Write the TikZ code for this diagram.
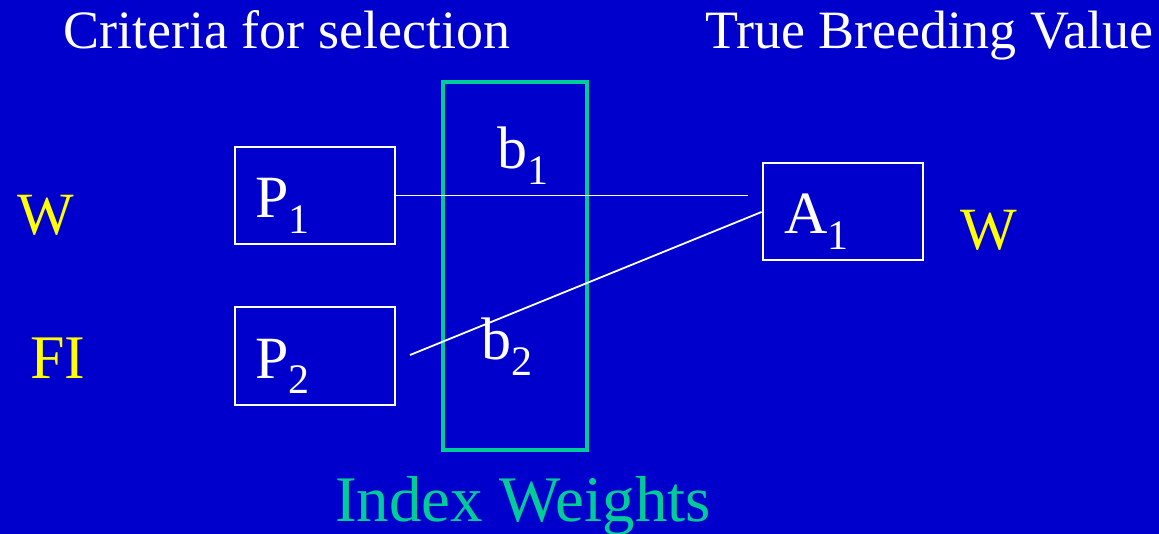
\documentclass[tikz,border=0pt]{standalone}
\usepackage{fontspec}
\setmainfont{Liberation Serif}
\definecolor{bgblue}{RGB}{0,0,204}
\definecolor{idxgreen}{RGB}{0,204,153}
\definecolor{lblyellow}{RGB}{255,255,0}
\newcommand{\mysub}[1]{\raisebox{-16pt}{\fontsize{42}{42}\selectfont #1}}
\begin{document}
\begin{tikzpicture}[x=1pt,y=-1pt,
  wbox/.style={draw=white,line width=2pt,minimum width=160pt,minimum height=97pt,inner sep=0pt},
  gbox/.style={draw=idxgreen,line width=3.5pt,minimum width=144pt,minimum height=368pt,inner sep=0pt},
  title/.style={anchor=base west,inner sep=0pt,text=white,font=\fontsize{54}{60}\selectfont},
  sym/.style={anchor=base west,inner sep=0pt,text=white,font=\fontsize{60}{66}\selectfont},
  trait/.style={anchor=base west,inner sep=0pt,text=lblyellow,font=\fontsize{60}{66}\selectfont},
  conn/.style={draw=white,line width=1.8pt}]
\fill[bgblue] (0,0) rectangle (1159,534);
\useasboundingbox (0,0) rectangle (1159,534);

\node[title] (crit) at (63,49) {Criteria for selection};
\node[title] (tbv) at (705,49) {True Breeding Value};

\node[trait] (wl) at (17,235) {W};
\node[trait,font=\fontsize{62}{66}\selectfont] (fi) at (30,378) {FI};
\node[trait] (wr) at (960,250) {W};

\node[gbox] (idx) at (515,266) {};
\node[wbox] (p1) at (315,195.5) {};
\node[wbox] (p2) at (315,356) {};
\node[wbox] (a1) at (842.5,212) {};

\node[sym] (p1t) at (255,218) {P\mysub{1}};
\node[sym] (p2t) at (255,378) {P\mysub{2}};
\node[sym] (a1t) at (784,234) {A\mysub{1}};
\node[sym] (b1t) at (497,169) {b\mysub{1}};
\node[sym] (b2t) at (481,360) {b\mysub{2}};

\coordinate (e1) at (748,195.5);
\coordinate (s2) at (410,355);
\draw[conn] (p1.east) -- (e1);
\draw[conn] (s2) -- (a1.west);

\node[anchor=base west,inner sep=0pt,text=idxgreen,font=\fontsize{65}{70}\selectfont] (iw) at (335,521) {Index Weights};
\end{tikzpicture}
\end{document}
